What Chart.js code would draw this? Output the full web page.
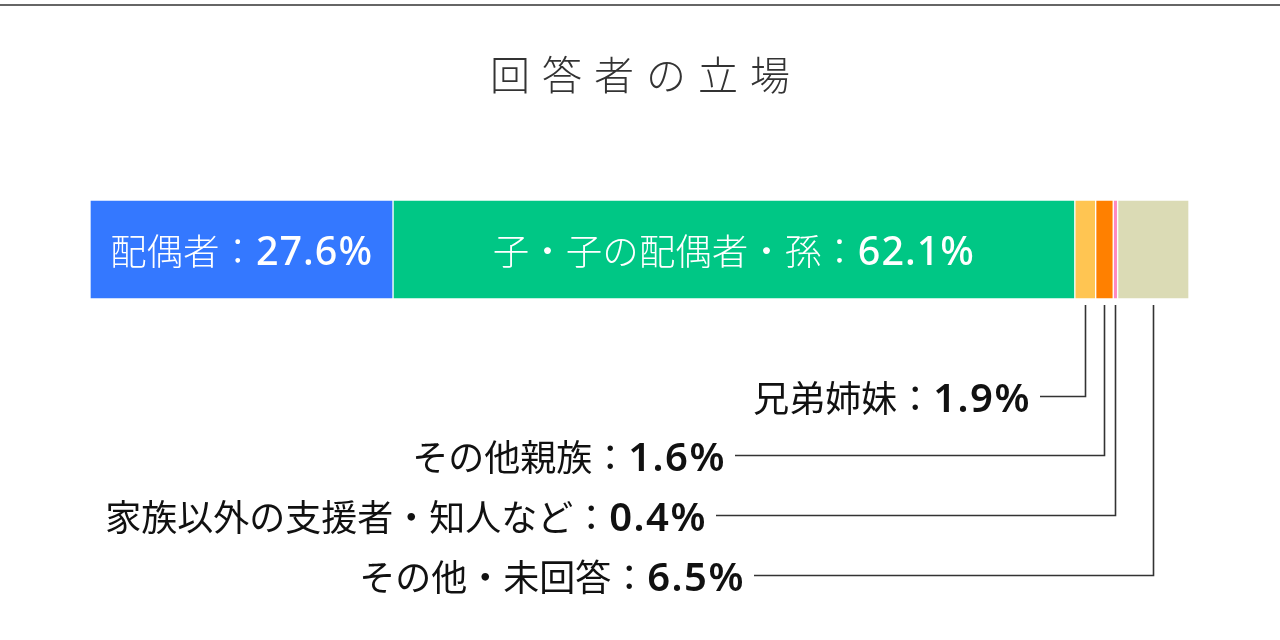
<!DOCTYPE html>
<html>
<head>
<meta charset="utf-8">
<script src="https://cdn.jsdelivr.net/npm/chart.js@4.4.1/dist/chart.umd.min.js"></script>
<style>
html,body{margin:0;padding:0;background:#fff;}
#wrap{width:1280px;height:640px;position:relative;}
</style>
</head>
<body>
<div id="wrap"><canvas id="c" width="1280" height="640"></canvas></div>
<script>
const titleText = '回答者の立場';
const categories = ['配偶者', '子・子の配偶者・孫', '兄弟姉妹', 'その他親族', '家族以外の支援者・知人など', 'その他・未回答'];
const values = [27.6, 62.1, 1.9, 1.6, 0.4, 6.5];
const colors = ['#3478FF', '#00C785', '#FFC552', '#FF8000', '#FF88C0', '#DBDBB5'];
const insideIdx = [0, 1];
const outsideIdx = [2, 3, 4, 5];

// layout of outside callouts (pixels)
const calloutRowY = [396, 455, 515, 575];
const calloutLineStartX = [1040, 735, 716, 754];

const total = values.reduce((a, b) => a + b, 0);
const CJK = '"Noto Sans CJK JP", "Noto Sans", sans-serif';
const LAT = '"Noto Sans", "Open Sans", sans-serif';

const datasets = categories.map((c, i) => ({
  label: c,
  data: [values[i]],
  backgroundColor: colors[i],
  borderColor: '#ffffff',
  borderWidth: 1,
  borderSkipped: false,
  barPercentage: 1,
  categoryPercentage: 1
}));

function drawMixed(ctx, name, num, rightX, baseY, nameFont, numFont, color, align, numSpacing) {
  ctx.save();
  ctx.fillStyle = color;
  ctx.textBaseline = 'alphabetic';
  ctx.textAlign = 'left';
  ctx.font = nameFont;
  ctx.letterSpacing = '0px';
  const wn = ctx.measureText(name).width;
  ctx.font = numFont;
  ctx.letterSpacing = numSpacing;
  const wv = ctx.measureText(num).width;
  let x0 = align === 'center' ? rightX - (wn + wv) / 2 : rightX - (wn + wv);
  ctx.font = nameFont;
  ctx.letterSpacing = '0px';
  ctx.fillText(name, x0, baseY);
  ctx.font = numFont;
  ctx.letterSpacing = numSpacing;
  ctx.fillText(num, x0 + wn, baseY);
  ctx.restore();
}

const decor = {
  id: 'decor',
  beforeDraw(chart) {
    const ctx = chart.ctx;
    ctx.save();
    ctx.fillStyle = '#fff';
    ctx.fillRect(0, 0, chart.width, chart.height);
    ctx.strokeStyle = '#666';
    ctx.lineWidth = 2;
    ctx.beginPath();
    ctx.moveTo(0, 5);
    ctx.lineTo(chart.width, 5);
    ctx.stroke();
    ctx.fillStyle = '#333';
    ctx.font = '300 40px ' + CJK;
    ctx.letterSpacing = '12px';
    ctx.textAlign = 'center';
    ctx.textBaseline = 'middle';
    ctx.fillText(titleText, chart.width / 2 + 6, 75);
    ctx.restore();
  },
  afterDatasetsDraw(chart) {
    const ctx = chart.ctx;
    const xs = chart.scales.x;
    const area = chart.chartArea;
    const cum = [];
    let s = 0;
    values.forEach(v => { cum.push(s); s += v; });
    insideIdx.forEach(i => {
      const cx = (xs.getPixelForValue(cum[i]) + xs.getPixelForValue(cum[i] + values[i])) / 2;
      drawMixed(ctx, categories[i] + '：', values[i].toFixed(1) + '%', cx, (area.top + area.bottom) / 2 + 15,
        '300 36.5px ' + CJK, '500 39.5px ' + LAT, '#ffffff', 'center', '1px');
    });
    outsideIdx.forEach((i, r) => {
      const cx = Math.round((xs.getPixelForValue(cum[i]) + xs.getPixelForValue(cum[i] + values[i])) / 2) + 0.5;
      const y = calloutRowY[r] + 0.5;
      const lx = calloutLineStartX[r];
      ctx.save();
      ctx.strokeStyle = '#333';
      ctx.lineWidth = 1.6;
      ctx.beginPath();
      ctx.moveTo(cx, area.bottom + 6);
      ctx.lineTo(cx, y);
      ctx.lineTo(lx, y);
      ctx.stroke();
      ctx.restore();
      drawMixed(ctx, categories[i] + '：', values[i].toFixed(1) + '%', lx - 9, calloutRowY[r] + 16,
        '400 36px ' + CJK, '600 40px ' + LAT, '#111111', 'right', '1.5px');
    });
  }
};

new Chart(document.getElementById('c'), {
  type: 'bar',
  data: { labels: [''], datasets },
  options: {
    indexAxis: 'y',
    responsive: false,
    animation: false,
    events: [],
    layout: { padding: { left: 90, right: 91, top: 200, bottom: 341 } },
    plugins: { legend: { display: false }, title: { display: false }, tooltip: { enabled: false } },
    scales: {
      x: { stacked: true, min: 0, max: total, display: false },
      y: { stacked: true, display: false }
    }
  },
  plugins: [decor]
});
</script>
</body>
</html>
